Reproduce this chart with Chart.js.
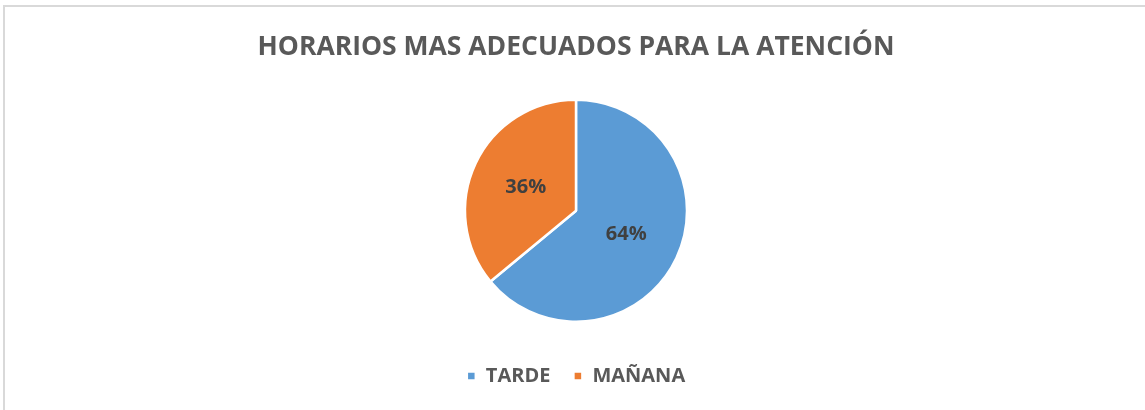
<!DOCTYPE html>
<html>
<head>
<meta charset="utf-8">
<script src="https://cdn.jsdelivr.net/npm/chart.js@4/dist/chart.umd.min.js"></script>
<style>
  html, body { margin: 0; padding: 0; background: #fff; overflow: hidden; }
  #frame { position: absolute; left: 3px; top: 5px; width: 1300px; height: 600px; border: 2px solid #d9d9d9; box-sizing: border-box; }
  #wrap { position: absolute; left: 0; top: 0; width: 1145px; height: 410px; }
</style>
</head>
<body>
<div id="frame"></div>
<div id="wrap"><canvas id="c" width="1145" height="410"></canvas></div>
<script>
const chartTitle = "HORARIOS MAS ADECUADOS PARA LA ATENCIÓN";
const categories = ["TARDE", "MAÑANA"];
const values = [64, 36];
const sliceColors = ["#5B9BD5", "#ED7D31"];

const FONT = "'Open Sans', 'Liberation Sans', sans-serif";

const pctLabels = {
  id: 'pctLabels',
  afterDatasetsDraw(chart) {
    const ctx = chart.ctx;
    const meta = chart.getDatasetMeta(0);
    const total = values.reduce((a, b) => a + b, 0);
    ctx.save();
    ctx.font = "bold 20px " + FONT;
    ctx.fillStyle = "#404040";
    ctx.textAlign = "center";
    ctx.textBaseline = "middle";
    meta.data.forEach((arc, i) => {
      const p = arc.tooltipPosition();
      ctx.fillText(Math.round(values[i] / total * 100) + "%", p.x, p.y);
    });
    ctx.restore();
  }
};

new Chart(document.getElementById('c'), {
  type: 'pie',
  data: {
    labels: categories,
    datasets: [{
      data: values,
      backgroundColor: sliceColors,
      borderColor: "#ffffff",
      borderWidth: 2.5,
      radius: 111
    }]
  },
  options: {
    responsive: false,
    animation: false,
    layout: { padding: { left: 7, right: 0, top: 0, bottom: 14 } },
    plugins: {
      title: {
        display: true,
        text: chartTitle,
        color: "#595959",
        font: { family: FONT, size: 26.5, weight: 'bold', lineHeight: 1.2 },
        padding: { top: 31.3, bottom: 15.3 }
      },
      legend: {
        position: 'bottom',
        labels: {
          color: "#595959",
          font: { family: FONT, size: 20, weight: 'bold' },
          boxWidth: 9,
          boxHeight: 9,
          padding: 23
        }
      },
      tooltip: { enabled: false }
    }
  },
  plugins: [pctLabels]
});
</script>
</body>
</html>
